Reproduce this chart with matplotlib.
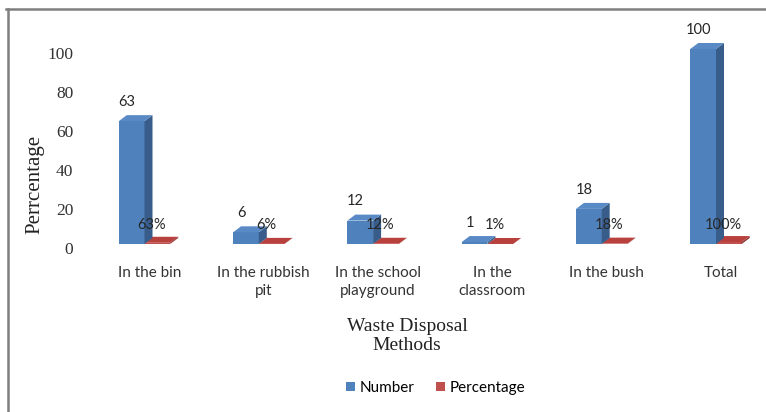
import numpy as np
import matplotlib
matplotlib.use("Agg")
import matplotlib.pyplot as plt
from matplotlib.patches import Polygon, Patch
from matplotlib.lines import Line2D
from matplotlib.transforms import ScaledTranslation

# data
categories = ["In the bin", "In the rubbish\npit", "In the school\nplayground",
              "In the\nclassroom", "In the bush", "Total"]
numbers = [63, 6, 12, 1, 18, 100]
percentages = [63, 6, 12, 1, 18, 100]   # stored as fractions in the sheet, hence flat bars

blue, blue_side, blue_top = "#4F81BD", "#385D8A", "#5A8AC6"
red, red_side, red_top = "#C0504D", "#8C3836", "#B8403D"

fig = plt.figure(figsize=(7.66, 4.12), dpi=100)
px_per_unit = 114.3
first_px, base_px = 144.5, 244
xmin, xmax = -0.5, 5.4
left_px = first_px + xmin * px_per_unit
ymax = 105
yscale = 1.95
ax = fig.add_axes([left_px / 766, (412 - base_px) / 412,
                   (xmax - xmin) * px_per_unit / 766, ymax * yscale / 412])
ax.set_xlim(xmin, xmax)
ax.set_ylim(0, ymax)

w = 0.225
dx = 8 / px_per_unit
dy = 6 / yscale
x = np.arange(len(categories))


def bar3d(x0, h, front, side, top):
    ax.bar(x0, h, width=w, align="edge", color=front, zorder=2, clip_on=False)
    ax.add_patch(Polygon([(x0 + w, 0), (x0 + w + dx, dy), (x0 + w + dx, h + dy), (x0 + w, h)],
                         closed=True, facecolor=side, edgecolor="none", zorder=2, clip_on=False))
    ax.add_patch(Polygon([(x0, h), (x0 + dx, h + dy), (x0 + w + dx, h + dy), (x0 + w, h)],
                         closed=True, facecolor=top, edgecolor="none", zorder=2, clip_on=False))


for i in x:
    bar3d(i, percentages[i] / 100, red, red_side, red_top)
    bar3d(i - w, numbers[i], blue, blue_side, blue_top)

lab_font = ["Lato", "DejaVu Sans"]
serif = ["Liberation Serif", "DejaVu Serif"]
for i in x:
    ax.annotate(str(numbers[i]), (i - w / 2 - 0.04, numbers[i] + dy), xytext=(0, 9.5),
                textcoords="offset points", ha="center", va="center",
                fontsize=10.5, family=lab_font, color="#262626", zorder=5)
    ax.annotate(f"{percentages[i]}%", (i + 0.065, 0), xytext=(0, 14),
                textcoords="offset points", ha="center", va="center",
                fontsize=10.5, family=lab_font, color="#262626", zorder=5)

for s in ax.spines.values():
    s.set_visible(False)
ax.set_xticks(x)
ax.set_xticklabels(categories, fontsize=11, family=lab_font, color="#333333", linespacing=1.3)
ax.set_yticks([0, 20, 40, 60, 80, 100])
ax.set_yticklabels(["0", "20", "40", "60", "80", "100"], fontsize=12.5,
                   family=serif, color="#333333")
ax.tick_params(axis="both", length=0)
ax.tick_params(axis="x", pad=16)
ax.tick_params(axis="y", pad=10)
for t in ax.get_yticklabels():
    t.set_transform(t.get_transform() + ScaledTranslation(0, -4 / 100, fig.dpi_scale_trans))
for t in ax.get_xticklabels():
    t.set_transform(t.get_transform() + ScaledTranslation(5 / 100, 0, fig.dpi_scale_trans))

fig.text(35 / 766, 1 - 184 / 412, "Perrcentage", rotation=90, ha="center", va="center",
         fontsize=15, family=serif, color="#222222")
fig.text(407 / 766, 1 - 336 / 412, "Waste Disposal\nMethods", ha="center", va="center",
         fontsize=14, family=serif, color="#222222", linespacing=1.1)

handles = [Patch(facecolor=blue, label="Number"), Patch(facecolor=red, label="Percentage")]
fig.legend(handles=handles, loc="center", bbox_to_anchor=(436 / 766, 1 - 388 / 412), ncol=2,
           frameon=False, prop={"family": lab_font, "size": 11}, handlelength=0.6,
           handleheight=0.6, handletextpad=0.3, columnspacing=1.4)

# outer frame: grey top and left edges
fig.add_artist(Line2D([6 / 766, 1], [1 - 9 / 412] * 2, color="#7f7f7f", lw=1.8))
fig.add_artist(Line2D([8 / 766] * 2, [0, 1 - 9 / 412], color="#7f7f7f", lw=1.8))

fig.savefig("out.png", dpi=100)
